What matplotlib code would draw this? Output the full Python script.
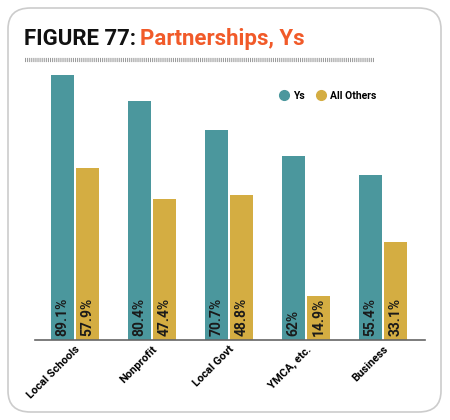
import matplotlib.pyplot as plt
from matplotlib.patches import FancyBboxPatch
from matplotlib.lines import Line2D
import numpy as np

categories = ["Local Schools", "Nonprofit", "Local Govt", "YMCA, etc.", "Business"]
ys_vals = [89.1, 80.4, 70.7, 62.0, 55.4]
others_vals = [57.9, 47.4, 48.8, 14.9, 33.1]
ys_labels = ["89.1%", "80.4%", "70.7%", "62%", "55.4%"]
others_labels = ["57.9%", "47.4%", "48.8%", "14.9%", "33.1%"]

TEAL = "#4b979d"
GOLD = "#d4ad42"
ORANGE = "#f15a29"

plt.rcParams['font.family'] = ['Roboto', 'DejaVu Sans']

W, H = 450, 420
fig = plt.figure(figsize=(4.5, 4.2), dpi=100)

# rounded card border
card = FancyBboxPatch((8 / W, 8 / H), 433 / W, 404 / H,
                      boxstyle="round,pad=0,rounding_size=0.05",
                      transform=fig.transFigure, fill=False,
                      edgecolor="#cccccc", linewidth=1.2)
fig.patches.append(card)

# title in two colours
t1 = fig.text(24 / W, 1 - 45 / H, "FIGURE 77:", fontsize=16, fontweight='bold',
              color="#111111", ha='left', va='baseline')
fig.canvas.draw()
bb = t1.get_window_extent()
fig.text(bb.x1 / W + 4 / W, 1 - 45 / H, "Partnerships, Ys", fontsize=16,
         fontweight='bold', color=ORANGE, ha='left', va='baseline')

# hatched rule under the title
fig.lines.append(Line2D([25 / W, 374 / W], [1 - 60 / H, 1 - 60 / H],
                        transform=fig.transFigure, color="#999999",
                        linewidth=3, linestyle=(0, (0.25, 0.25))))

ax = fig.add_axes([35 / W, 80 / H, 390 / W, 297.5 / H])
x = np.arange(len(categories))
w = 0.3
off = w / 2 + 0.013
ax.bar(x - off, ys_vals, w, color=TEAL, label="Ys")
ax.bar(x + off, others_vals, w, color=GOLD, label="All Others")

for i in range(len(categories)):
    ax.text(x[i] - off, 1.2, ys_labels[i], rotation=90, ha='center', va='bottom',
            fontsize=10, fontweight='bold', color="#1a1a1a")
    ax.text(x[i] + off, 1.2, others_labels[i], rotation=90, ha='center', va='bottom',
            fontsize=10, fontweight='bold', color="#1a1a1a")

ax.set_xlim(-0.52, 4.545)
ax.set_ylim(0, 100)
for s in ['top', 'right', 'left']:
    ax.spines[s].set_visible(False)
ax.spines['bottom'].set_color("#666666")
ax.spines['bottom'].set_linewidth(1.2)
ax.set_yticks([])
ax.set_xticks(x)
ax.set_xticklabels(categories, rotation=45, ha='right', va='top',
                   rotation_mode='anchor', fontsize=8, fontweight='bold')
ax.tick_params(axis='x', length=0, pad=3)
ax.patch.set_visible(False)

handles = [Line2D([], [], marker='o', linestyle='', markersize=7, color=TEAL),
           Line2D([], [], marker='o', linestyle='', markersize=7, color=GOLD)]
fig.legend(handles, ["Ys", "All Others"], loc='center left',
           bbox_to_anchor=(273 / W, 1 - 96 / H), ncol=2, frameon=False,
           prop={'weight': 'bold', 'size': 7.5}, handletextpad=0.2,
           columnspacing=1.0, handlelength=1.2, borderpad=0)

fig.savefig("out.png", dpi=100)
